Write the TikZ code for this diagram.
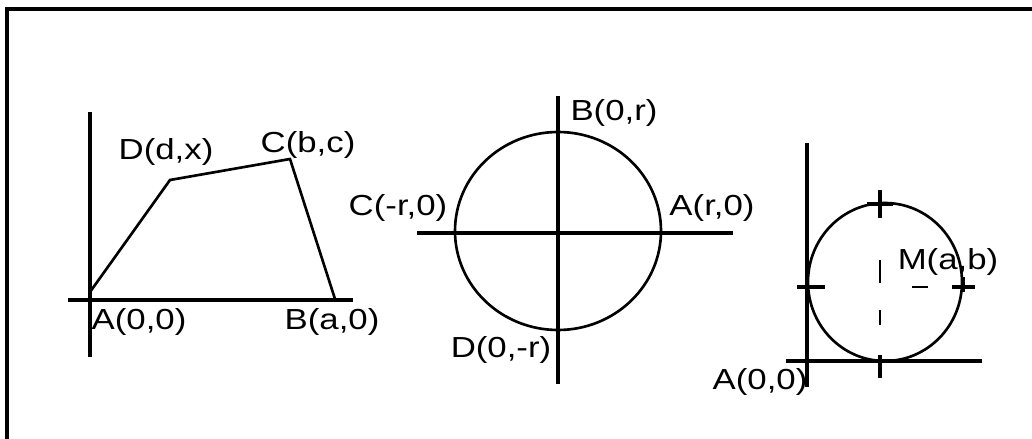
\documentclass[tikz,border=0pt]{standalone}
\usepackage{fontspec}
\usepackage{tikz}
\usetikzlibrary{positioning,calc}
\newfontfamily\lblfont[FakeStretch=1.2]{Liberation Sans}

\begin{document}
\begin{tikzpicture}[
  x=0.02cm,y=-0.02cm,
  lbl/.style={font=\lblfont\fontsize{16.5pt}{19pt}\selectfont,inner sep=0pt},
  axis/.style={line width=2pt,black},
  edge/.style={line width=1.5pt,black},
  cmark/.style={line width=1.5pt,black,dash pattern=on 0.46cm off 0.54cm},
]
\useasboundingbox (0,0) rectangle (1032,439);
% frame
\draw[axis] (7,439) -- (7,9) -- (1032,9);

% quadrilateral
\coordinate (qo) at (90,300);
\coordinate (qA) at (90,292);
\coordinate (qB) at (335,299);
\coordinate (qC) at (290,159);
\coordinate (qD) at (170,180);
\draw[axis] (68,300) -- (353,300);
\draw[axis] (90,112) -- (90,357);
\draw[edge] (qA) -- (qD) -- (qC) -- (qB);
\node[lbl] (lqD) at (166,152) {D(d,x)};
\node[lbl] (lqC) at (308,145) {C(b,c)};
\node[lbl] (lqA) at (139,322) {A(0,0)};
\node[lbl] (lqB) at (332,322) {B(a,0)};

% circle round the origin
\coordinate (co) at (558,231);
\draw[axis] (417,233) -- (733,233);
\draw[axis] (558,96) -- (558,384);
\draw[edge] (co) ellipse [x radius=103,y radius=99];
\node[lbl] (lcB) at (614,113) {B(0,r)};
\node[lbl] (lcC) at (398,208) {C(-r,0)};
\node[lbl] (lcA) at (712,208) {A(r,0)};
\node[lbl] (lcD) at (501,350) {D(0,-r)};

% circle touching both axes
\coordinate (mo) at (885,282);
\coordinate (mt) at (880,204);
\coordinate (ml) at (807,287);
\coordinate (mr) at (963,287);
\coordinate (mb) at (880,361);
\draw[axis] (786,361) -- (982,361);
\draw[axis] (807,143) -- (807,387);
\draw[edge] (mo) ellipse [x radius=77,y radius=79];
\draw[axis] (mt) +(-13,0) -- +(13,0) (mt) +(0,-14) -- +(0,14);
\draw[axis] (ml) +(-10,0) -- +(18,0);
\draw[axis] (mr) +(-11,0) -- +(12,0) (mr) +(0,-10) -- +(0,5);
\draw[axis] (mb) +(0,-6) -- +(0,17);
\draw[cmark] (880,260) -- (880,325);
\draw[cmark] (912,287) -- (928,287);
\node[lbl] (lmM) at (948,262) {M(a,b)};
\node[lbl] (lmA) at (760,382) {A(0,0)};
\end{tikzpicture}
\end{document}
